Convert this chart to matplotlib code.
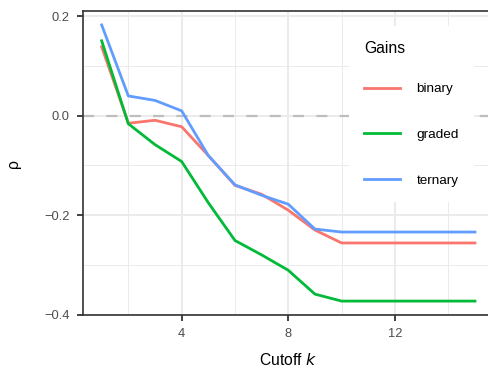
import matplotlib
matplotlib.use('Agg')
import matplotlib.pyplot as plt
from matplotlib.ticker import MultipleLocator

plt.rcParams['font.family'] = ['Liberation Sans', 'DejaVu Sans']

# cutoff values and rank correlation per gain type
k = list(range(1, 16))
binary = [0.139, -0.015, -0.009, -0.022, -0.080, -0.140, -0.158, -0.190, -0.230, -0.256,
          -0.256, -0.256, -0.256, -0.256, -0.256]
graded = [0.151, -0.016, -0.058, -0.092, -0.175, -0.251, -0.280, -0.311, -0.359, -0.373,
          -0.373, -0.373, -0.373, -0.373, -0.373]
ternary = [0.183, 0.040, 0.031, 0.010, -0.080, -0.139, -0.160, -0.178, -0.228, -0.234,
           -0.234, -0.234, -0.234, -0.234, -0.234]
series = {'binary': binary, 'graded': graded, 'ternary': ternary}
colors = {'binary': '#F8766D', 'graded': '#00BA38', 'ternary': '#619CFF'}

W, H = 489, 367
fig = plt.figure(figsize=(W / 100, H / 100), dpi=100)
left, right, top, bottom = 83, 493.6, 11, 315
ax = fig.add_axes([left / W, 1 - bottom / H, (right - left) / W, (bottom - top) / H])

ax.set_xlim(0.3, 15.7)
ax.set_ylim(-0.401, 0.211)

ax.xaxis.set_minor_locator(MultipleLocator(2))
ax.yaxis.set_minor_locator(MultipleLocator(0.1))
ax.set_xticks([4, 8, 12])
ax.set_yticks([-0.4, -0.2, 0.0, 0.2])
ax.set_yticklabels(['\u22120.4', '\u22120.2', '0.0', '0.2'])

ax.grid(which='major', color='#EBEBEB', linewidth=1.4)
ax.grid(which='minor', color='#EBEBEB', linewidth=0.7)
ax.set_axisbelow(True)

ax.tick_params(which='major', length=4.5, width=1.3, color='#333333',
               labelsize=9.3, labelcolor='#4D4D4D', pad=5)
ax.tick_params(which='minor', length=0)
for s in ax.spines.values():
    s.set_color('#333333')
    s.set_linewidth(1.2)

ax.axhline(0, color='#BEBEBE', linestyle=(0, (5, 5.5)), linewidth=1.6, zorder=1)

for name, vals in series.items():
    ax.plot(k, vals, color=colors[name], linewidth=2.0, label=name, zorder=3)

ax.set_xlabel('Cutoff $k$', fontsize=11.3, labelpad=8.5)
ax.set_ylabel('\u03c1', fontsize=11.3, labelpad=16.5)

leg = ax.legend(title='Gains', loc='upper left',
                bbox_to_anchor=(349 / W, 1 - 26 / H), bbox_transform=fig.transFigure,
                borderaxespad=0,
                fontsize=9.7, title_fontsize=11.3, frameon=True, facecolor='white',
                edgecolor='none', fancybox=False, framealpha=1,
                handlelength=2.7, handletextpad=1.2, labelspacing=2.47,
                borderpad=1.1, alignment='left')
# tighter gap between title and first key
leg._legend_box.sep = 19.5
leg.set_zorder(5)

fig.savefig('out.png', dpi=100)
